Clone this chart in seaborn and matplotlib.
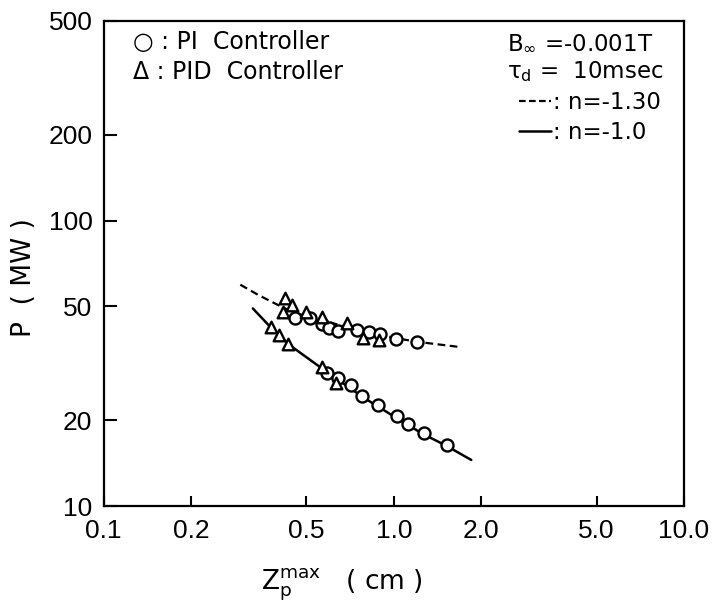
import matplotlib
matplotlib.use("Agg")
import matplotlib.pyplot as plt
import matplotlib.font_manager as fm
from matplotlib.lines import Line2D
import seaborn as sns

# ---- data ----
pi_upper_x = [0.455, 0.515, 0.565, 0.60, 0.64, 0.75, 0.82, 0.895, 1.02, 1.20]
pi_upper_p = [45.5, 45.5, 43.5, 42.0, 41.0, 41.4, 40.6, 40.0, 38.4, 37.6]

pid_upper_x = [0.416, 0.422, 0.445, 0.498, 0.565, 0.688, 0.785, 0.892]
pid_upper_p = [47.9, 53.4, 50.6, 47.9, 46.0, 43.6, 38.7, 38.1]

pi_lower_x = [0.587, 0.644, 0.711, 0.775, 0.880, 1.023, 1.117, 1.27, 1.52]
pi_lower_p = [29.2, 28.0, 26.5, 24.3, 22.6, 20.6, 19.4, 18.0, 16.4]

pid_lower_x = [0.378, 0.403, 0.432, 0.566, 0.634]
pid_lower_p = [42.4, 39.6, 37.0, 30.8, 26.9]

fit130_x = [0.296, 0.340, 0.393, 0.454, 0.544, 0.652, 0.781, 1.005, 1.205, 1.71]
fit130_p = [59.6, 55.0, 51.0, 47.5, 45.3, 43.0, 41.0, 38.8, 37.6, 36.0]

fit10_x = [0.327, 0.378, 0.438, 0.564, 0.781, 1.017, 1.258, 1.51, 1.85]
fit10_p = [49.2, 42.1, 36.6, 30.4, 24.1, 20.4, 17.9, 16.3, 14.5]

x_ticks = [0.1, 0.2, 0.5, 1.0, 2.0, 5.0, 10.0]
x_ticklabels = ["0.1", "0.2", "0.5", "1.0", "2.0", "5.0", "10.0"]
y_ticks = [10, 20, 50, 100, 200, 500]
y_ticklabels = ["10", "20", "50", "100", "200", "500"]

# ---- style ----
sns.set_style("ticks")
names = {f.name for f in fm.fontManager.ttflist}
tick_font = "Liberation Sans Narrow" if "Liberation Sans Narrow" in names else "Liberation Sans"
plt.rcParams["font.family"] = ["DejaVu Sans"]
plt.rcParams["mathtext.default"] = "regular"
for k in ["text.color", "axes.labelcolor", "xtick.color", "ytick.color", "axes.edgecolor"]:
    plt.rcParams[k] = "black"

fig = plt.figure(figsize=(7.13, 6.05), dpi=100)
ax = fig.add_axes([0.1452, 0.1636, 0.8141, 0.8017])

ax.set_xscale("log")
ax.set_yscale("log")

sns.lineplot(x=fit130_x, y=fit130_p, ax=ax, color="black", lw=1.6,
             linestyle=(0, (3.5, 2)), sort=False, estimator=None, zorder=2)
sns.lineplot(x=fit10_x, y=fit10_p, ax=ax, color="black", lw=1.8,
             sort=False, estimator=None, zorder=2)

for xs, ys, mk, sz in [(pi_upper_x, pi_upper_p, "o", 75),
                       (pi_lower_x, pi_lower_p, "o", 75),
                       (pid_upper_x, pid_upper_p, "^", 70),
                       (pid_lower_x, pid_lower_p, "^", 70)]:
    sns.scatterplot(x=xs, y=ys, ax=ax, marker=mk, s=sz, facecolor="white",
                    edgecolor="black", linewidth=1.7, zorder=3)

ax.set_xlim(0.1, 10.0)
ax.set_ylim(10, 500)
ax.set_xticks(x_ticks)
ax.set_xticklabels(x_ticklabels, fontfamily=tick_font, fontsize=19)
ax.set_yticks(y_ticks)
ax.set_yticklabels(y_ticklabels, fontfamily=tick_font, fontsize=19)
ax.minorticks_off()
ax.tick_params(axis="y", direction="in", length=9, width=1.5, pad=8)
ax.tick_params(axis="x", direction="in", length=7, width=1.5, pad=9)

for s in ax.spines.values():
    s.set_linewidth(1.6)
    s.set_color("black")

ax.set_xlabel(r"$Z_p^{max}$   ( cm )", fontsize=19)
ax.set_ylabel("P  ( MW )", fontsize=19)
ax.xaxis.set_label_coords(0.41, -0.125)
ax.yaxis.set_label_coords(-0.115, 0.47)

# annotation block (upper left)
ax.text(0.051, 0.957, "○ : PI  Controller", transform=ax.transAxes,
        fontsize=17, va="center", ha="left")
ax.text(0.051, 0.895, "Δ : PID  Controller", transform=ax.transAxes,
        fontsize=17, va="center", ha="left")

# annotation block (upper right)
ax.text(0.695, 0.955, r"$B_\infty$ =-0.001T", transform=ax.transAxes,
        fontsize=16.5, va="center", ha="left")
ax.text(0.695, 0.895, r"$\tau_d$ =  10msec", transform=ax.transAxes,
        fontsize=16.5, va="center", ha="left")
handles = [Line2D([], [], color="black", lw=1.6, linestyle=(0, (3, 1.5))),
           Line2D([], [], color="black", lw=1.8)]
ax.legend(handles, [": n=-1.30", ": n=-1.0"], loc="upper left",
          bbox_to_anchor=(0.715, 0.855), frameon=False, fontsize=16.5,
          handlelength=1.4, handletextpad=0.1, labelspacing=0.3,
          borderpad=0, borderaxespad=0)

fig.savefig("out.png", dpi=100)
